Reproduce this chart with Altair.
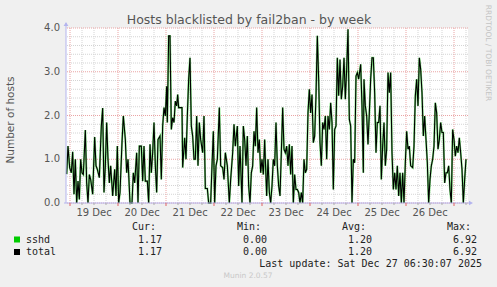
import altair as alt
import pandas as pd

# time in minutes since Dec 18 21:00
minutes = [
    80, 120, 170, 220, 260, 300, 340, 380, 420, 460, 500, 540, 580, 640, 680, 720, 760, 800, 860, 920,
    960, 1000, 1060, 1120, 1160, 1200, 1240, 1280, 1320, 1360, 1400, 1460, 1520, 1560, 1600, 1640, 1680, 1740, 1780, 1840,
    1880, 1920, 1980, 2040, 2080, 2120, 2180, 2220, 2260, 2320, 2360, 2400, 2440, 2500, 2540, 2580, 2620, 2660, 2700, 2740,
    2780, 2820, 2880, 2920, 2960, 3000, 3040, 3080,
    3100, 3140, 3180, 3220, 3260, 3300, 3340, 3380, 3410, 3440, 3500, 3540, 3560, 3620, 3660, 3700, 3740, 3780, 3820, 3860,
    3900, 3940, 3980, 4020, 4060, 4100, 4160, 4200, 4240, 4300, 4340, 4400, 4440, 4480, 4520, 4560, 4600, 4660, 4700, 4760,
    4800, 4840, 4900, 4960, 5000, 5060, 5100, 5140, 5200, 5240, 5280, 5340, 5380, 5420, 5460, 5500, 5540, 5580, 5620, 5660,
    5700, 5740, 5780, 5820, 5860, 5900, 5940, 5980, 6020,
    6040, 6080, 6120, 6160, 6200, 6240, 6280, 6320, 6360, 6400, 6440, 6480, 6520, 6560, 6600, 6640, 6680, 6720, 6760, 6800,
    6840, 6880, 6920, 6960, 7000, 7040, 7080, 7120, 7160, 7200, 7240, 7280, 7320, 7360, 7400, 7440, 7480, 7520, 7560, 7600,
    7640, 7680, 7720, 7760, 7800, 7840, 7880, 7920, 7960, 8000, 8040, 8080, 8120, 8160, 8200, 8240, 8280, 8320, 8360, 8400,
    8440, 8480, 8520, 8560, 8600, 8640, 8680, 8720, 8760, 8800, 8840, 8900, 8940, 8980,
    9000, 9040, 9080, 9120, 9160, 9200, 9240, 9280, 9320, 9360, 9400, 9440, 9480, 9520, 9560, 9600, 9640, 9680, 9720, 9760,
    9800, 9840, 9880, 9920, 9960, 10000, 10040, 10080, 10120, 10160, 10200, 10240, 10280, 10320, 10360, 10400, 10460, 10500, 10540, 10580,
    10620, 10660, 10700, 10740, 10780, 10820, 10860, 10900, 10940, 10980, 11020, 11060, 11100, 11140, 11180, 11220, 11260, 11300, 11340, 11380,
    11420, 11460, 11500, 11540, 11580, 11620, 11660, 11700, 11740, 11780, 11820, 11860, 11900, 11940, 11980, 12020, 12060,
]

sshd = [
    0.66, 1.30, 0.81, 0.69, 1.17, 0.20, 1.00, 0.00, 0.50, 0.08, 1.00, 0.69, 0.65, 1.67, 0.46, 0.00, 0.65, 0.54, 0.20, 1.51,
    0.85, 0.77, 0.58, 1.76, 2.17, 0.24, 0.85, 1.84, 1.00, 0.46, 0.85, 0.16, 0.77, 0.16, 1.30, 0.00, 0.24, 1.38, 1.99, 1.45,
    0.69, 1.00, 0.00, 0.00, 0.69, 0.46, 1.15, 0.00, 1.30, 1.30, 0.50, 1.30, 0.50, 0.50, 0.00, 1.34, 0.69, 1.15, 1.84, 0.85,
    0.24, 1.45, 1.53, 0.54, 1.76, 2.18, 1.99, 2.67,
    1.84, 3.82, 3.82, 1.68, 1.95, 1.84, 2.33, 2.22, 2.48, 2.18, 2.18, 2.18, 0.81, 1.49, 1.00, 1.99, 2.83, 3.32, 1.76, 1.53,
    1.00, 1.00, 1.99, 0.85, 1.84, 1.45, 1.15, 1.99, 0.33, 0.33, 0.00, 0.00, 0.85, 1.64, 0.00, 0.85, 1.00, 2.18, 0.85, 0.81,
    0.54, 1.15, 0.85, 0.00, 0.54, 1.15, 1.80, 1.30, 1.76, 0.39, 1.30, 0.00, 1.76, 1.45, 0.85, 1.53, 0.39, 0.00, 0.69, 0.85,
    1.64, 1.30, 2.18, 1.15, 1.45, 0.69, 1.00, 0.65, 1.45,
    1.00, 0.16, 1.00, 0.24, 0.00, 0.39, 1.00, 0.85, 1.84, 0.85, 0.39, 0.16, 1.15, 2.18, 1.23, 1.15, 1.30, 0.85, 1.34, 0.65,
    1.30, 0.00, 0.65, 0.31, 0.31, 0.24, 0.00, 0.24, 0.00, 1.00, 0.69, 0.77, 2.06, 2.60, 2.06, 2.48, 1.38, 1.53, 2.45, 3.82,
    2.83, 1.38, 0.85, 1.84, 1.68, 1.99, 1.00, 1.99, 1.68, 2.29, 1.84, 0.31, 1.68, 1.76, 3.32, 2.45, 3.28, 2.37, 2.67, 3.32,
    2.37, 3.06, 3.97, 1.91, 1.76, 0.00, 1.00, 0.92, 2.90, 2.98, 2.83, 3.17, 2.22, 0.69,
    2.83, 2.22, 1.99, 1.34, 2.06, 2.83, 3.32, 3.32, 2.52, 1.15, 1.84, 1.84, 2.22, 0.54, 1.30, 1.84, 0.85, 1.23, 2.98, 2.52,
    2.98, 1.15, 0.31, 0.69, 0.31, 0.85, 0.16, 0.69, 0.00, 0.69, 0.00, 0.92, 1.64, 1.23, 1.30, 0.85, 0.81, 1.30, 2.45, 2.83,
    2.22, 3.32, 3.06, 2.52, 1.53, 1.99, 1.45, 0.92, 0.00, 0.54, 0.85, 1.00, 1.30, 2.29, 2.06, 1.23, 1.45, 1.84, 1.61, 1.61,
    0.46, 0.69, 0.69, 0.85, 0.31, 0.00, 1.68, 1.45, 1.07, 1.30, 1.15, 1.49, 1.15, 0.77, 0.00, 0.54, 1.00,
]
total = list(sshd)

day_labels = ["19 Dec", "20 Dec", "21 Dec", "22 Dec", "23 Dec", "24 Dec", "25 Dec", "26 Dec"]
y_labels = ["0.0", "1.0", "2.0", "3.0", "4.0"]

series_names = ["sshd", "total"]
series_colors = ["#00cc00", "#000000"]
cur_vals = ["1.17", "1.17"]
min_vals = ["0.00", "0.00"]
avg_vals = ["1.20", "1.20"]
max_vals = ["6.92", "6.92"]

title_text = "Hosts blacklisted by fail2ban - by week"
y_title = "Number of hosts"
last_update = "Last update: Sat Dec 27 06:30:07 2025"
footer = "Munin 2.0.57"
side_text = "RRDTOOL / TOBI OETIKER"

# ---- derived tables ----
df = pd.DataFrame({"t": minutes, "sshd": sshd, "total": total})
X0, X1 = 60, 12120
midnights = [180 + 1440 * k for k in range(9)]
minor_x = [m for m in range(180, X1, 360) if m not in midnights]
noon_ticks = [900 + 1440 * k for k in range(len(day_labels))]
major_y = [float(v) for v in y_labels]
minor_y = [round(i * 0.2, 1) for i in range(21) if i % 5 != 0]

W, H = 402, 175
xscale = alt.Scale(domain=[X0, X1], nice=False, zero=False)
yscale = alt.Scale(domain=[0, 4], nice=False)

FONT = "DejaVu Sans"
MONO = "DejaVu Sans Mono"
GREY = "#555555"
AXC = "#b4b4ee"
GRIDC = "#d4d4d4"
MGRIDC = "#eaa4a4"

hgrid_minor = alt.Chart(pd.DataFrame({"v": minor_y})).mark_rule(
    color=GRIDC, strokeDash=[1, 1], strokeWidth=1
).encode(y=alt.Y("v:Q", scale=yscale, axis=None))

vgrid_minor = alt.Chart(pd.DataFrame({"v": minor_x})).mark_rule(
    color=GRIDC, strokeDash=[1, 1], strokeWidth=1
).encode(x=alt.X("v:Q", scale=xscale, axis=None))

hgrid_major = alt.Chart(pd.DataFrame({"v": major_y})).mark_rule(
    color=MGRIDC, strokeDash=[1, 1], strokeWidth=1
).encode(y=alt.Y("v:Q", scale=yscale, axis=None))

vgrid_major = alt.Chart(pd.DataFrame({"v": midnights})).mark_rule(
    color=MGRIDC, strokeDash=[1, 1], strokeWidth=1
).encode(x=alt.X("v:Q", scale=xscale, axis=None))

xticks_major = alt.Chart(pd.DataFrame({"v": midnights})).mark_rule(
    color="#e06060", strokeWidth=1
).encode(x=alt.X("v:Q", scale=xscale, axis=None), y=alt.value(H), y2=alt.value(H + 3))

xticks_minor = alt.Chart(pd.DataFrame({"v": minor_x})).mark_rule(
    color="#aaaaaa", strokeWidth=1
).encode(x=alt.X("v:Q", scale=xscale, axis=None), y=alt.value(H), y2=alt.value(H + 2))

xlab = alt.Chart(pd.DataFrame({"v": noon_ticks, "lab": day_labels})).mark_text(
    font=FONT, fontSize=10, color=GREY, align="center", baseline="middle"
).encode(x=alt.X("v:Q", scale=xscale, axis=None), y=alt.value(H + 9.5), text="lab:N")

ylab = alt.Chart(pd.DataFrame({"v": major_y, "lab": y_labels})).mark_text(
    font=FONT, fontSize=10, color=GREY, align="right", baseline="middle"
).encode(y=alt.Y("v:Q", scale=yscale, axis=None), x=alt.value(-6), text="lab:N")

green_line = alt.Chart(df).mark_line(color=series_colors[0], strokeWidth=2, opacity=0.5).encode(
    x=alt.X("t:Q", scale=xscale, axis=None),
    y=alt.Y("sshd:Q", scale=yscale, axis=None),
)

black_line = alt.Chart(df).mark_line(color=series_colors[1], strokeWidth=1.1).encode(
    x=alt.X("t:Q", scale=xscale, axis=None),
    y=alt.Y("total:Q", scale=yscale, axis=None),
)

one = pd.DataFrame({"a": [0]})

yaxis_line = alt.Chart(one).mark_rule(color=AXC, strokeWidth=1).encode(
    x=alt.value(0), y=alt.value(-5), y2=alt.value(H))
xaxis_line = alt.Chart(one).mark_rule(color=AXC, strokeWidth=1).encode(
    x=alt.value(-2), x2=alt.value(404), y=alt.value(H))
yarrow = alt.Chart(one).mark_point(shape="triangle-up", filled=True, color=AXC, size=22, opacity=1).encode(
    x=alt.value(0), y=alt.value(-4))
xarrow = alt.Chart(one).mark_point(shape="triangle-right", filled=True, color=AXC, size=22, opacity=1).encode(
    x=alt.value(405), y=alt.value(H))


def txt(s, x, y, font=MONO, size=10, color="#222222", align="left", angle=0):
    return alt.Chart(one).mark_text(
        text=s, font=font, fontSize=size, color=color, align=align, baseline="middle", angle=angle
    ).encode(x=alt.value(x), y=alt.value(y))


OX, OY = 66, 28
texts = [
    txt(title_text, 249 - OX, 19.5 - OY, font=FONT, size=12.5, color=GREY, align="center"),
    txt(y_title, 11 - OX, 120 - OY, font=FONT, size=10.5, color=GREY, align="center", angle=270),
    txt(side_text, 488 - OX, 53 - OY, font=FONT, size=7.5, color="#c4c4c4", align="center", angle=90),
    txt("Cur:", 132 - OX, 227 - OY),
    txt("Min:", 237 - OX, 227 - OY),
    txt("Avg:", 342 - OX, 227 - OY),
    txt("Max:", 447 - OX, 227 - OY),
    txt(last_update, 482 - OX, 263.5 - OY, align="right"),
    txt(footer, 248 - OX, 276 - OY, font=FONT, size=7.5, color="#c8c8c8", align="center"),
]
row_y = [239.5, 252]
for i, name in enumerate(series_names):
    yy = row_y[i] - OY
    texts.append(alt.Chart(one).mark_square(color=series_colors[i], size=36, opacity=1).encode(
        x=alt.value(17 - OX), y=alt.value(yy)))
    texts.append(txt(name, 26 - OX, yy))
    texts.append(txt(cur_vals[i], 138 - OX, yy))
    texts.append(txt(min_vals[i], 243 - OX, yy))
    texts.append(txt(avg_vals[i], 348 - OX, yy))
    texts.append(txt(max_vals[i], 453 - OX, yy))

chart = alt.layer(
    hgrid_minor, vgrid_minor, hgrid_major, vgrid_major,
    green_line, black_line,
    yaxis_line, xaxis_line, yarrow, xarrow, xticks_major, xticks_minor,
    xlab, ylab,
    *texts,
).properties(
    width=W, height=H,
    autosize=alt.AutoSizeParams(type="none"),
    padding={"left": OX, "top": OY, "right": 497 - OX - W, "bottom": 287 - OY - H},
    background="#f0f0f0",
).configure_view(stroke=None, fill="white")

chart.save("out.html", embed_options={"renderer": "svg", "actions": False})
